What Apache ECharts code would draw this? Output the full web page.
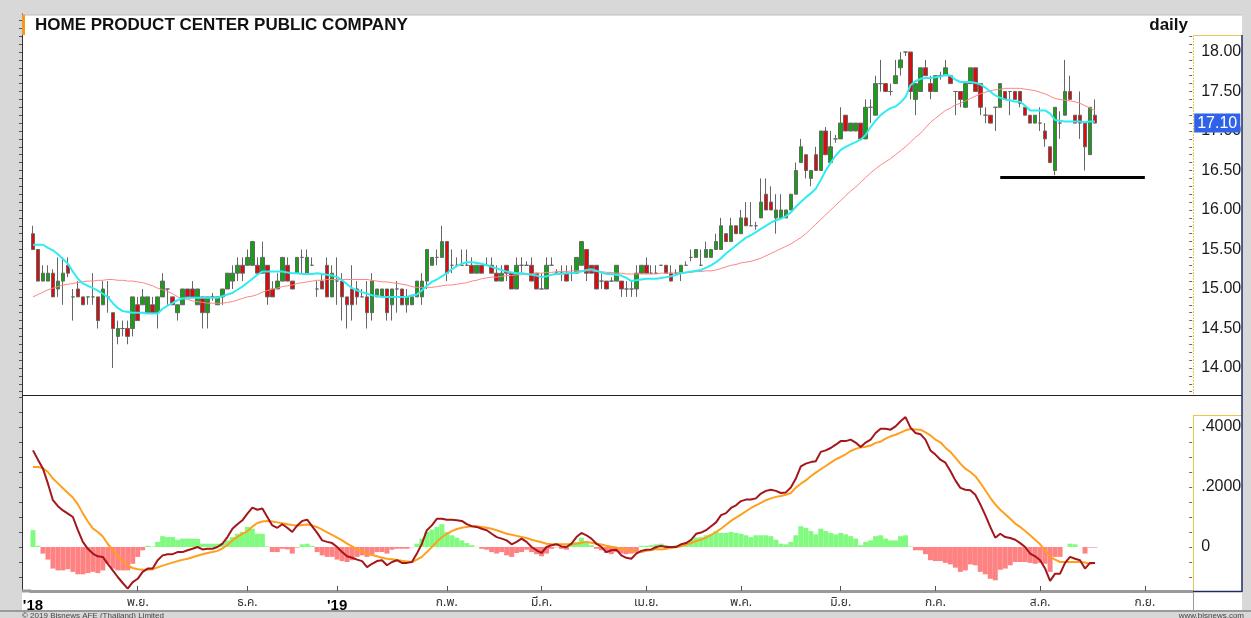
<!DOCTYPE html>
<html>
<head>
<meta charset="utf-8">
<script src="https://cdn.jsdelivr.net/npm/echarts@6/dist/echarts.min.js"></script>
<style>
  html, body { margin: 0; padding: 0; background: #d8d8d8; }
  #chart { width: 1251px; height: 618px; }
</style>
</head>
<body>
<div id="chart"></div>
<script>
// daily prices, one entry per trading day (Oct 2018 - mid Aug 2019)
const openPx = [
  15.7,15.5,15.1,15.1,15.2,15.0,15.1,15.3,14.9,15.0,
  14.9,14.9,14.9,14.9,14.8,14.9,14.7,14.4,14.5,14.5,
  14.5,14.8,14.8,14.7,14.8,14.7,14.9,15.0,14.9,14.7,
  14.8,15.0,15.0,14.8,14.9,14.7,14.9,14.8,14.9,15.0,
  15.1,15.2,15.3,15.3,15.3,15.3,15.2,15.3,15.0,15.0,
  15.1,15.3,15.1,15.2,15.4,15.2,15.3,15.0,15.1,15.3,
  14.9,15.1,15.1,14.9,15.0,15.0,14.9,14.9,14.7,14.9,
  14.9,15.0,14.8,15.0,15.0,14.8,14.8,14.9,14.9,15.1,
  15.3,15.4,15.4,15.6,15.3,15.3,15.3,15.3,15.3,15.2,
  15.3,15.3,15.3,15.2,15.1,15.3,15.2,15.0,15.3,15.3,
  15.3,15.2,15.0,15.0,15.3,15.2,15.2,15.2,15.2,15.2,
  15.3,15.5,15.3,15.3,15.1,15.1,15.1,15.1,15.1,15.0,
  15.0,15.0,15.2,15.3,15.2,15.2,15.3,15.3,15.2,15.2,
  15.2,15.3,15.4,15.4,15.3,15.4,15.4,15.5,15.5,15.7,
  15.6,15.8,15.7,15.9,15.8,15.8,15.9,16.2,16.1,15.9,
  15.9,15.9,16.0,16.2,16.6,16.7,16.4,16.7,16.5,17.0,
  16.6,16.9,16.9,17.2,17.0,17.0,17.1,16.9,17.3,17.2,
  17.6,17.6,17.5,17.6,17.8,18.0,18.0,17.4,17.5,17.8,
  17.6,17.5,17.7,17.7,17.7,17.5,17.5,17.3,17.6,17.8,
  17.6,17.2,17.2,17.3,17.3,17.5,17.5,17.5,17.5,17.3,
  17.2,17.1,17.1,17.0,16.8,16.5,17.1,17.2,17.5,17.2,
  17.2,17.1,16.7,17.2
];
const closePx = [
  15.5,15.1,15.2,15.2,14.9,15.1,15.2,15.2,14.9,14.9,
  14.8,14.9,14.9,14.6,15.0,14.9,14.5,14.5,14.5,14.4,
  14.9,14.6,14.9,14.9,14.7,14.9,15.1,15.0,14.8,14.8,
  15.0,14.9,14.9,15.0,14.7,14.9,14.9,14.9,15.0,15.2,
  15.2,15.3,15.2,15.4,15.6,15.2,15.4,14.9,14.9,15.1,
  15.4,15.1,15.0,15.4,15.4,15.4,15.3,15.0,15.0,14.9,
  15.2,15.1,14.9,14.8,14.8,14.9,14.9,14.7,15.1,15.0,
  15.0,14.7,15.0,15.0,14.8,14.9,14.9,15.1,15.1,15.5,
  15.4,15.4,15.6,15.2,15.3,15.3,15.3,15.3,15.2,15.3,
  15.2,15.3,15.2,15.1,15.2,15.2,15.0,15.3,15.3,15.3,
  15.1,15.0,15.0,15.3,15.3,15.2,15.2,15.1,15.2,15.4,
  15.6,15.2,15.2,15.0,15.1,15.0,15.1,15.3,15.0,15.0,
  15.0,15.2,15.3,15.2,15.2,15.2,15.3,15.2,15.1,15.2,
  15.3,15.3,15.4,15.5,15.3,15.5,15.5,15.6,15.8,15.6,
  15.8,15.7,15.9,15.8,15.8,15.8,16.1,16.0,16.0,16.0,
  16.0,16.0,16.2,16.5,16.8,16.5,16.5,16.5,17.0,16.7,
  16.8,16.9,17.1,17.0,17.1,17.1,16.9,17.3,17.3,17.6,
  17.6,17.5,17.5,17.7,17.9,18.0,17.5,17.6,17.8,17.7,
  17.5,17.7,17.7,17.8,17.6,17.5,17.4,17.6,17.8,17.5,
  17.3,17.2,17.1,17.3,17.6,17.4,17.5,17.4,17.35,17.2,
  17.1,17.2,17.1,16.9,16.6,17.3,17.1,17.5,17.4,17.1,
  17.1,16.8,17.3,17.1
];
const lowPx = [
  15.5,15.1,15.1,15.1,14.9,14.9,14.8,15.15,14.6,14.9,
  14.8,14.8,14.8,14.5,14.8,14.7,14.0,14.3,14.4,14.3,
  14.4,14.6,14.8,14.7,14.7,14.5,14.9,14.8,14.8,14.6,
  14.8,14.9,14.9,14.8,14.5,14.5,14.85,14.8,14.8,15.0,
  15.0,15.1,15.1,15.3,15.3,15.2,15.2,14.8,14.9,15.0,
  15.1,15.1,15.0,15.2,15.2,15.2,15.3,14.9,15.0,14.9,
  14.9,14.8,14.6,14.5,14.6,14.8,14.9,14.5,14.6,14.9,
  14.9,14.6,14.6,14.7,14.8,14.7,14.8,14.9,14.8,15.0,
  15.3,15.3,15.4,15.1,15.2,15.3,15.3,15.3,15.2,15.2,
  15.2,15.3,15.2,15.1,15.1,15.1,15.0,15.0,15.2,15.3,
  15.1,15.0,15.0,15.0,15.3,15.2,15.1,15.1,15.1,15.2,
  15.3,15.1,15.2,15.0,15.0,15.0,15.1,15.1,14.9,14.9,
  14.9,14.9,15.2,15.2,15.2,15.2,15.3,15.2,15.1,15.2,
  15.1,15.3,15.35,15.4,15.3,15.4,15.4,15.5,15.5,15.6,
  15.6,15.7,15.7,15.8,15.8,15.75,15.9,16.0,16.0,15.7,
  15.9,15.9,16.0,16.2,16.6,16.4,16.3,16.5,16.5,16.7,
  16.6,16.85,16.9,17.0,17.0,17.0,16.9,16.9,17.1,17.2,
  17.5,17.5,17.45,17.6,17.7,17.95,17.4,17.2,17.5,17.7,
  17.4,17.5,17.65,17.7,17.6,17.2,17.3,17.3,17.6,17.5,
  17.2,17.1,17.1,17.0,17.3,17.4,17.2,17.4,17.3,17.2,
  17.1,17.1,17.0,16.8,16.6,16.44,16.9,17.2,17.4,17.1,
  16.9,16.5,16.7,17.1
];
const highPx = [
  15.8,15.5,15.3,15.3,15.25,15.4,15.4,15.4,15.0,15.1,
  14.9,14.9,15.2,14.9,15.1,15.1,14.7,14.6,14.6,14.6,
  14.9,14.9,15.0,14.9,14.9,14.9,15.2,15.0,14.9,14.8,
  15.0,15.0,15.1,15.0,14.9,14.9,14.95,14.9,15.0,15.2,
  15.3,15.4,15.4,15.5,15.6,15.4,15.6,15.3,15.1,15.2,
  15.4,15.4,15.1,15.4,15.5,15.5,15.4,15.1,15.2,15.4,
  15.3,15.4,15.2,14.9,15.3,15.1,15.0,15.1,15.2,15.0,
  15.0,15.0,15.0,15.1,15.0,15.0,14.9,15.1,15.2,15.5,
  15.4,15.5,15.8,15.6,15.5,15.4,15.5,15.5,15.4,15.3,
  15.3,15.4,15.4,15.3,15.3,15.3,15.2,15.4,15.4,15.35,
  15.4,15.2,15.2,15.4,15.4,15.25,15.3,15.3,15.3,15.4,
  15.6,15.5,15.3,15.3,15.2,15.1,15.15,15.3,15.1,15.1,
  15.1,15.3,15.3,15.4,15.3,15.3,15.3,15.3,15.3,15.25,
  15.3,15.35,15.5,15.5,15.5,15.6,15.5,15.7,15.9,15.7,
  15.9,15.8,16.0,16.1,16.1,15.85,16.4,16.4,16.3,16.2,
  16.2,16.0,16.2,16.6,16.9,16.7,16.5,16.8,17.0,17.05,
  17.0,16.95,17.3,17.2,17.1,17.1,17.1,17.4,17.4,17.7,
  17.9,17.6,17.6,17.9,18.0,18.0,18.0,17.6,17.8,17.9,
  17.7,17.7,17.75,17.9,17.7,17.5,17.5,17.6,17.8,17.8,
  17.6,17.3,17.2,17.3,17.6,17.5,17.5,17.5,17.5,17.3,
  17.2,17.2,17.3,17.1,16.8,17.3,17.25,17.9,17.7,17.2,
  17.5,17.1,17.3,17.4
];
// short (cyan) and long (pink) moving averages as drawn on the chart
const maFast = [
  15.56,15.56,15.56,15.52,15.49,15.44,15.38,15.32,15.22,15.13,
  15.07,15.04,15.01,14.98,14.94,14.90,14.82,14.76,14.72,14.71,
  14.70,14.70,14.70,14.69,14.69,14.69,14.75,14.79,14.82,14.86,
  14.88,14.89,14.89,14.89,14.89,14.89,14.89,14.89,14.91,14.93,
  14.95,14.99,15.03,15.08,15.13,15.18,15.22,15.22,15.22,15.22,
  15.22,15.21,15.20,15.20,15.19,15.19,15.19,15.20,15.19,15.18,
  15.17,15.15,15.11,15.06,15.01,14.98,14.96,14.94,14.92,14.91,
  14.90,14.90,14.90,14.90,14.90,14.90,14.92,14.93,14.98,15.04,
  15.09,15.12,15.16,15.20,15.25,15.29,15.32,15.34,15.34,15.33,
  15.32,15.30,15.28,15.26,15.24,15.22,15.21,15.20,15.20,15.19,
  15.18,15.17,15.15,15.16,15.18,15.19,15.19,15.20,15.20,15.21,
  15.22,15.24,15.25,15.23,15.21,15.19,15.19,15.18,15.17,15.14,
  15.10,15.11,15.12,15.13,15.13,15.13,15.14,15.15,15.16,15.18,
  15.20,15.21,15.22,15.23,15.24,15.27,15.30,15.34,15.39,15.45,
  15.50,15.55,15.60,15.65,15.68,15.72,15.76,15.80,15.84,15.87,
  15.89,15.92,15.97,16.04,16.10,16.16,16.21,16.27,16.38,16.50,
  16.60,16.69,16.76,16.80,16.83,16.86,16.89,16.95,17.05,17.13,
  17.20,17.25,17.29,17.31,17.36,17.43,17.58,17.63,17.66,17.67,
  17.67,17.68,17.69,17.71,17.70,17.65,17.62,17.62,17.62,17.61,
  17.59,17.55,17.50,17.45,17.42,17.40,17.39,17.37,17.37,17.32,
  17.26,17.26,17.26,17.26,17.22,17.14,17.13,17.12,17.12,17.12,
  17.12,17.11,17.12,17.12
];
const maSlow = [
  14.90,14.93,14.96,14.99,15.01,15.03,15.05,15.06,15.07,15.08,
  15.09,15.10,15.10,15.11,15.11,15.12,15.12,15.11,15.11,15.10,
  15.10,15.09,15.08,15.06,15.04,15.01,14.99,14.97,14.94,14.90,
  14.88,14.87,14.85,14.84,14.83,14.82,14.82,14.82,14.82,14.83,
  14.84,14.86,14.88,14.90,14.91,14.93,14.96,14.98,15.00,15.01,
  15.03,15.04,15.05,15.07,15.08,15.09,15.10,15.11,15.11,15.12,
  15.12,15.12,15.12,15.12,15.12,15.12,15.12,15.12,15.11,15.10,
  15.09,15.09,15.08,15.07,15.06,15.05,15.03,15.02,15.02,15.02,
  15.02,15.03,15.04,15.05,15.05,15.06,15.07,15.08,15.10,15.11,
  15.13,15.14,15.15,15.15,15.16,15.17,15.17,15.18,15.18,15.19,
  15.19,15.20,15.20,15.21,15.21,15.22,15.22,15.22,15.23,15.23,
  15.23,15.23,15.23,15.22,15.22,15.21,15.21,15.20,15.20,15.19,
  15.19,15.19,15.19,15.19,15.19,15.19,15.20,15.20,15.20,15.20,
  15.21,15.21,15.21,15.22,15.22,15.23,15.23,15.24,15.26,15.28,
  15.30,15.31,15.33,15.34,15.35,15.37,15.39,15.42,15.45,15.48,
  15.51,15.54,15.57,15.61,15.65,15.70,15.76,15.82,15.88,15.94,
  16.00,16.06,16.12,16.18,16.24,16.29,16.35,16.41,16.47,16.52,
  16.57,16.61,16.65,16.70,16.75,16.80,16.86,16.92,16.97,17.04,
  17.11,17.16,17.21,17.26,17.29,17.33,17.35,17.38,17.41,17.44,
  17.47,17.49,17.51,17.52,17.53,17.54,17.54,17.54,17.54,17.53,
  17.52,17.51,17.49,17.47,17.44,17.41,17.40,17.39,17.38,17.37,
  17.35,17.32,17.29,17.26
];
// MACD panel
const macdLine = [
  .322,.291,.261,.211,.156,.136,.122,.111,.100,.056,
  .017,-.006,-.022,-.031,-.033,-.056,-.078,-.100,-.120,-.139,
  -.117,-.106,-.083,-.072,-.072,-.044,-.028,-.024,-.024,-.017,
  -.017,-.011,-.006,.000,-.008,-.006,-.006,.000,.011,.033,
  .061,.076,.089,.111,.131,.124,.128,.100,.072,.064,
  .076,.064,.050,.072,.087,.091,.069,.047,.022,.017,
  .013,.000,-.017,-.031,-.036,-.042,-.047,-.067,-.056,-.047,
  -.044,-.061,-.050,-.044,-.053,-.053,-.050,-.022,.011,.056,
  .072,.094,.094,.091,.091,.089,.087,.076,.069,.067,
  .061,.056,.044,.033,.028,.022,.009,.017,.028,.017,
  .000,-.011,-.020,.000,.006,.009,.002,.000,.011,.033,
  .047,.039,.028,.011,.000,-.017,-.011,-.009,-.028,-.036,
  -.039,-.022,-.013,-.009,-.008,.000,.003,.000,.000,.000,
  .009,.013,.024,.044,.048,.056,.069,.082,.106,.113,
  .130,.139,.153,.158,.158,.162,.178,.187,.191,.187,
  .180,.182,.198,.228,.269,.278,.283,.286,.317,.322,
  .330,.341,.353,.353,.358,.348,.333,.348,.358,.380,
  .394,.394,.391,.402,.419,.433,.398,.380,.376,.358,
  .322,.308,.291,.281,.253,.222,.197,.191,.189,.174,
  .142,.106,.067,.031,.044,.033,.030,.024,.013,.000,
  -.022,-.031,-.044,-.072,-.113,-.089,-.089,-.053,-.033,-.039,
  -.044,-.072,-.053,-.053
];
const signalLine = [
  .267,.267,.262,.250,.228,.212,.196,.180,.165,.142,
  .112,.085,.062,.050,.035,.010,-.010,-.030,-.048,-.062,
  -.070,-.074,-.076,-.076,-.074,-.068,-.062,-.057,-.052,-.047,
  -.043,-.039,-.034,-.029,-.024,-.020,-.017,-.013,-.005,.007,
  .022,.034,.044,.052,.068,.080,.085,.087,.085,.082,
  .079,.076,.073,.071,.073,.075,.072,.066,.058,.049,
  .040,.031,.022,.011,.002,-.008,-.015,-.022,-.027,-.031,
  -.036,-.039,-.041,-.043,-.046,-.048,-.050,-.042,-.033,-.017,
  .000,.017,.033,.044,.053,.060,.064,.067,.069,.069,
  .067,.064,.061,.056,.050,.044,.041,.037,.033,.030,
  .024,.020,.016,.011,.009,.009,.009,.009,.009,.011,
  .014,.017,.014,.011,.008,.004,.001,-.002,-.006,-.009,
  -.013,-.017,-.017,-.013,-.010,-.007,-.008,-.006,-.003,-.001,
  .002,.008,.013,.020,.024,.031,.040,.050,.061,.074,
  .087,.098,.108,.119,.130,.139,.147,.156,.162,.167,
  .170,.174,.180,.198,.211,.222,.236,.248,.259,.270,
  .281,.292,.300,.309,.320,.327,.332,.334,.338,.347,
  .351,.361,.369,.374,.381,.389,.393,.392,.391,.382,
  .372,.358,.349,.331,.317,.298,.278,.261,.250,.236,
  .214,.189,.164,.142,.124,.109,.094,.078,.067,.053,
  .039,.024,.009,-.011,-.033,-.042,-.050,-.050,-.050,-.050,
  -.050,-.052,-.056,-.053
];
const macdHist = [
  .056,.004,-.022,-.042,-.072,-.078,-.078,-.074,-.083,-.091,
  -.091,-.087,-.083,-.087,-.078,-.056,-.072,-.078,-.078,-.078,
  -.056,-.033,-.011,.004,.002,.017,.036,.033,.033,.024,
  .028,.028,.028,.027,.011,.011,.011,.011,.013,.022,
  .033,.044,.050,.067,.061,.044,.044,.002,-.017,-.017,
  -.006,-.008,-.022,-.002,.009,.011,.004,-.017,-.028,-.033,
  -.033,-.042,-.047,-.050,-.044,-.033,-.028,-.033,-.024,-.017,
  -.017,-.022,-.009,-.006,-.006,-.006,-.001,.011,.028,.050,
  .058,.067,.076,.050,.039,.031,.022,.013,.006,.001,
  -.006,-.009,-.017,-.022,-.017,-.028,-.033,-.020,-.017,-.009,
  -.017,-.024,-.031,-.022,-.006,-.001,-.006,-.009,.009,.017,
  .031,.017,.006,-.006,-.011,-.020,-.024,-.017,-.022,-.024,
  -.022,-.017,.004,.004,.006,.009,.011,.006,.002,.006,
  .011,.011,.024,.031,.033,.039,.042,.053,.047,.047,
  .050,.047,.044,.039,.033,.039,.039,.039,.036,.024,
  .011,.009,.017,.039,.069,.064,.053,.042,.061,.053,
  .047,.042,.047,.042,.036,.028,.006,.017,.022,.036,
  .039,.028,.022,.022,.036,.039,.002,-.011,-.011,-.024,
  -.044,-.047,-.047,-.053,-.058,-.069,-.083,-.078,-.058,-.061,
  -.083,-.091,-.106,-.111,-.076,-.072,-.061,-.050,-.050,-.050,
  -.053,-.056,-.053,-.056,-.083,-.033,-.033,.000,.011,.009,
  .000,-.022,-.002,-.002
];
// axis slots (trading days plus the empty run-out to the right edge)
const slotCount = 233;
const monthTickIdx = [0, 21, 43, 61, 83, 102, 123, 142, 162, 181, 202, 223];
const monthTickText = ["'18", 'พ.ย.', 'ธ.ค.', "'19", 'ก.พ.', 'มี.ค.', 'เม.ย.', 'พ.ค.', 'มิ.ย.', 'ก.ค.', 'ส.ค.', 'ก.ย.'];
const priceTicks = [14, 14.5, 15, 15.5, 16, 16.5, 17, 17.5, 18];
const macdTicks = [0, 0.2, 0.4];
// hand-drawn support line
const supportPrice = 16.41;
const supportFrom = 194;
const supportTo = 223;

const slots = Array.from({ length: slotCount }, (_, i) => String(i));
const ohlc = openPx.map((o, i) => [o, closePx[i], lowPx[i], highPx[i]]);
const lastClose = closePx[closePx.length - 1];

// minor tick marks along the panel edges
const priceMinor = [];
for (let v = 13.7; v <= 18.45; v += 0.1) priceMinor.push(+v.toFixed(1));
const priceMinorRight = priceMinor.filter((v) => v <= 18.2);
const macdMinor = [];
for (let v = -0.1; v <= 0.5; v += 0.05) macdMinor.push(+v.toFixed(2));
const macdMinorRight = macdMinor.filter((v) => v <= 0.44);

const FONT = "'Liberation Sans', Arial, sans-serif";
const THAI = "'Noto Sans Thai', 'Noto Sans', 'DejaVu Sans', sans-serif";
const GRID_L = 30.5, GRID_W = 1161.7;
const YELLOW = '#e9c64e', NAVY = '#1c2a6b';

const chart = echarts.init(document.getElementById('chart'), null, { renderer: 'canvas' });

chart.setOption({
  animation: false,
  backgroundColor: '#d8d8d8',
  grid: [
    { left: GRID_L, width: GRID_W, top: 14, height: 381 },
    { left: GRID_L, width: GRID_W, top: 396, height: 195 }
  ],
  xAxis: [
    {
      type: 'category', gridIndex: 0, data: slots, boundaryGap: true,
      axisLine: { show: false }, axisTick: { show: false }, axisLabel: { show: false }
    },
    {
      type: 'category', gridIndex: 1, data: slots, boundaryGap: true,
      axisLine: { onZero: false, lineStyle: { color: '#9a9a9a', width: 3 } },
      axisTick: {
        show: true, inside: true, length: 5, alignWithLabel: true,
        interval: (idx) => monthTickIdx.includes(idx) && idx > 0,
        lineStyle: { color: '#555' }
      },
      axisLabel: {
        interval: (idx) => monthTickIdx.includes(idx),
        margin: 7,
        fontFamily: THAI, fontSize: 12, color: '#333',
        formatter: (val) => {
          const k = monthTickIdx.indexOf(Number(val));
          if (k < 0) return '';
          const t = monthTickText[k];
          return t.charAt(0) === "'" ? '{yr|' + t + '}' : t;
        },
        rich: { yr: { fontFamily: FONT, fontWeight: 'bold', fontSize: 15, color: '#000' } }
      }
    }
  ],
  yAxis: [
    {
      type: 'value', gridIndex: 0, position: 'right', min: 13.658, max: 18.481,
      axisLine: { show: false },
      axisTick: { show: true, customValues: priceMinorRight, length: 3, inside: true, lineStyle: { color: '#666' } },
      axisLabel: {
        customValues: priceTicks, margin: 9,
        fontFamily: FONT, fontSize: 16, color: '#1a1a1a',
        formatter: (v) => v.toFixed(2)
      },
      splitLine: { show: false }
    },
    {
      type: 'value', gridIndex: 0, position: 'left', offset: 8.5, min: 13.658, max: 18.481,
      axisLine: { show: true, lineStyle: { color: '#333' } },
      axisTick: { show: true, customValues: priceMinor, length: 3, lineStyle: { color: '#555' } },
      axisLabel: { show: false },
      splitLine: { show: false }
    },
    {
      type: 'value', gridIndex: 1, position: 'right', min: -0.1467, max: 0.5033,
      axisLine: { show: false },
      axisTick: { show: true, customValues: macdMinorRight, length: 3, inside: true, lineStyle: { color: '#666' } },
      axisLabel: {
        customValues: macdTicks, margin: 9,
        fontFamily: FONT, fontSize: 16, color: '#1a1a1a',
        formatter: (v) => (v === 0 ? '0' : v.toFixed(4).replace(/^0/, ''))
      },
      splitLine: { show: false }
    },
    {
      type: 'value', gridIndex: 1, position: 'left', offset: 8.5, min: -0.1467, max: 0.5033,
      axisLine: { show: true, lineStyle: { color: '#333' } },
      axisTick: { show: true, customValues: macdMinor, length: 3, lineStyle: { color: '#555' } },
      axisLabel: { show: false },
      splitLine: { show: false }
    }
  ],
  graphic: [
    { type: 'rect', z: -10, silent: true, shape: { x: 22, y: 15, width: 1220, height: 596 }, style: { fill: '#fff' } },
    { type: 'line', z: 10, shape: { x1: 22, y1: 15, x2: 1242, y2: 15 }, style: { stroke: '#bdbdbd', lineWidth: 1 } },
    { type: 'rect', z: 10, shape: { x: 22, y: 15, width: 3, height: 20 }, style: { fill: '#f39a1d' } },
    {
      type: 'text', z: 10, x: 35, y: 25,
      style: { text: 'HOME PRODUCT CENTER PUBLIC COMPANY', font: 'bold 17px ' + FONT, fill: '#111', verticalAlign: 'middle' }
    },
    {
      type: 'text', z: 10, x: 1188, y: 25,
      style: { text: 'daily', font: 'bold 17px ' + FONT, fill: '#111', align: 'right', verticalAlign: 'middle' }
    },
    // price axis box
    { type: 'line', z: 10, shape: { x1: 1193, y1: 35.5, x2: 1242, y2: 35.5 }, style: { stroke: YELLOW, lineWidth: 1 } },
    { type: 'line', z: 10, shape: { x1: 1193.5, y1: 35, x2: 1193.5, y2: 395 }, style: { stroke: YELLOW, lineWidth: 1, lineDash: [2, 1] } },
    { type: 'line', z: 10, shape: { x1: 22, y1: 395.5, x2: 1242, y2: 395.5 }, style: { stroke: '#222', lineWidth: 1 } },
    // macd axis box
    { type: 'line', z: 10, shape: { x1: 1193, y1: 415.5, x2: 1242, y2: 415.5 }, style: { stroke: YELLOW, lineWidth: 1 } },
    { type: 'line', z: 10, shape: { x1: 1193.5, y1: 415, x2: 1193.5, y2: 591 }, style: { stroke: YELLOW, lineWidth: 1 } },
    { type: 'line', z: 10, shape: { x1: 1242, y1: 35, x2: 1242, y2: 592 }, style: { stroke: NAVY, lineWidth: 1.5 } },
    { type: 'line', z: 10, shape: { x1: 1193, y1: 591.5, x2: 1242, y2: 591.5 }, style: { stroke: NAVY, lineWidth: 1.5 } },
    // date strip
    { type: 'line', z: 10, shape: { x1: 22, y1: 591, x2: 31, y2: 591 }, style: { stroke: '#9a9a9a', lineWidth: 3 } },
    { type: 'line', z: 10, shape: { x1: 1193.5, y1: 592, x2: 1193.5, y2: 610 }, style: { stroke: '#9a9a9a', lineWidth: 1 } },
    { type: 'line', z: 10, shape: { x1: 0, y1: 611, x2: 1251, y2: 611 }, style: { stroke: '#9a9a9a', lineWidth: 2 } },
    {
      type: 'text', z: 10, x: 22, y: 616,
      style: { text: '© 2019 Bisnews AFE (Thailand) Limited', font: '8px ' + FONT, fill: '#444', verticalAlign: 'middle' }
    },
    {
      type: 'text', z: 10, x: 1244, y: 616,
      style: { text: 'www.bisnews.com', font: '8px ' + FONT, fill: '#444', align: 'right', verticalAlign: 'middle' }
    }
  ],
  series: [
    {
      name: 'price', type: 'candlestick', xAxisIndex: 0, yAxisIndex: 0,
      data: ohlc, barWidth: 4, z: 2,
      itemStyle: {
        color: '#12a212', color0: '#dc0c0c',
        borderColor: '#666', borderColor0: '#666', borderColorDoji: '#666', borderWidth: 1
      },
      markLine: {
        silent: true, symbol: 'none', animation: false,
        data: [
          [
            { coord: [String(supportFrom), supportPrice], lineStyle: { color: '#000', width: 3, type: 'solid' }, label: { show: false } },
            { coord: [String(supportTo), supportPrice] }
          ]
        ]
      }
    },
    {
      // carries the last-price tag on the right axis
      name: 'last', type: 'line', xAxisIndex: 0, yAxisIndex: 0, data: [],
      markLine: {
        silent: true, symbol: 'none', animation: false,
        lineStyle: { color: 'rgba(0,0,0,0)', width: 1 },
        label: {
          show: true, position: 'end', distance: 2,
          formatter: lastClose.toFixed(2),
          backgroundColor: '#2f62e8', color: '#fff',
          fontFamily: FONT, fontSize: 16, padding: [2, 3, 1, 3]
        },
        data: [{ yAxis: lastClose }]
      }
    },
    {
      name: 'ma short', type: 'line', xAxisIndex: 0, yAxisIndex: 0, data: maFast,
      symbol: 'none', z: 4, lineStyle: { color: '#30ecf2', width: 2 }
    },
    {
      name: 'ma long', type: 'line', xAxisIndex: 0, yAxisIndex: 0, data: maSlow,
      symbol: 'none', z: 3, lineStyle: { color: '#ff8585', width: 1 }
    },
    {
      name: 'hist', type: 'bar', xAxisIndex: 1, yAxisIndex: 2, data: macdHist,
      barWidth: '100%', barCategoryGap: '0%',
      itemStyle: { color: (p) => (p.value >= 0 ? '#80fb80' : '#ff8282') }
    },
    {
      name: 'macd', type: 'line', xAxisIndex: 1, yAxisIndex: 2, data: macdLine,
      symbol: 'none', z: 4, lineStyle: { color: '#a3161b', width: 2 }
    },
    {
      name: 'signal', type: 'line', xAxisIndex: 1, yAxisIndex: 2, data: signalLine,
      symbol: 'none', z: 3, lineStyle: { color: '#ff9f1c', width: 2 }
    }
  ]
});
</script>
</body>
</html>
